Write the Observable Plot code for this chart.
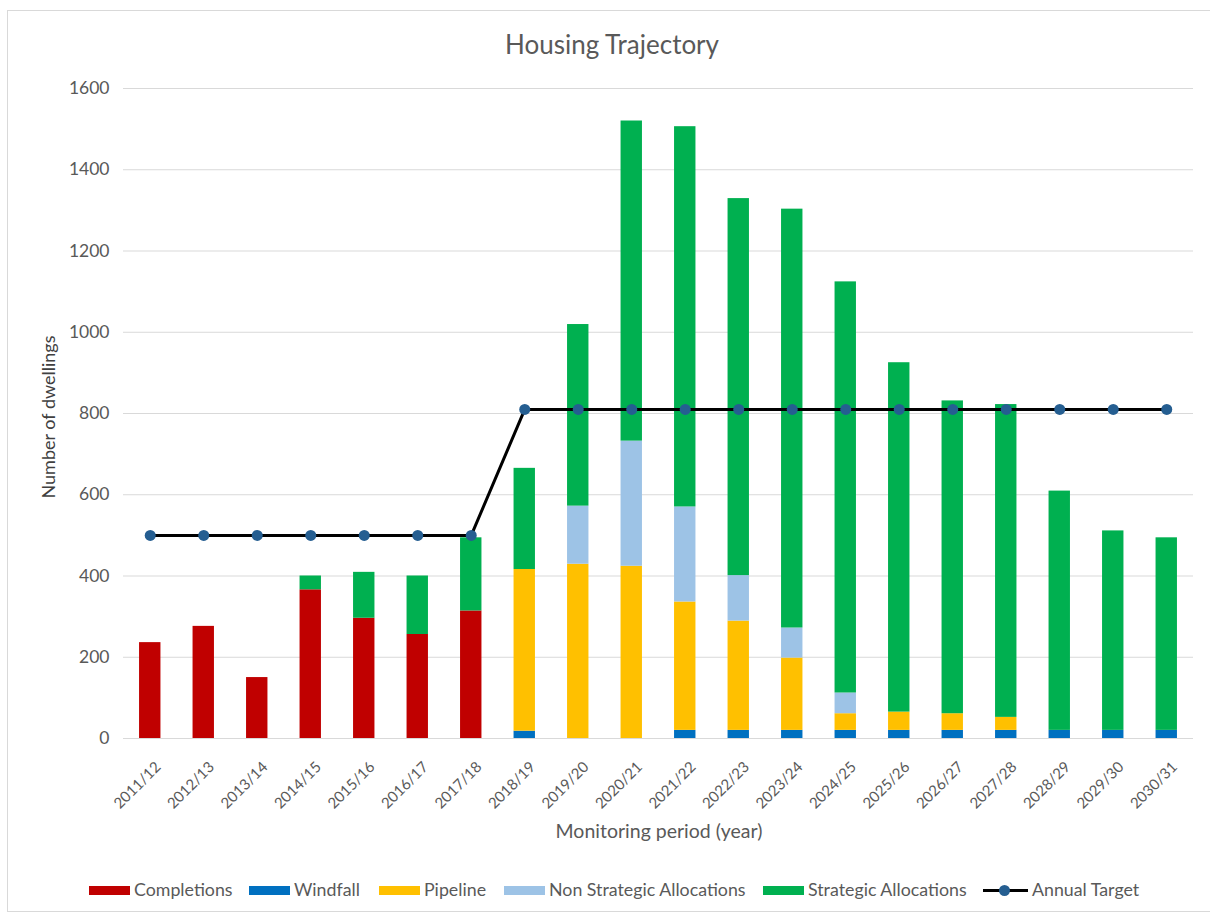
<!DOCTYPE html>
<html>
<head>
<meta charset="utf-8">
<script src="https://cdn.jsdelivr.net/npm/d3@7"></script>
<script src="https://cdn.jsdelivr.net/npm/@observablehq/plot@0.6"></script>
<style>
  html, body { margin: 0; padding: 0; background: #fff; }
  body { width: 1210px; height: 914px; overflow: hidden; font-family: Lato, "Open Sans", sans-serif; color: #595959; }
  #wrap { position: relative; width: 1210px; height: 914px; }
  #border { position: absolute; left: 7px; top: 10px; width: 1300px; height: 900px; border: 1px solid #d9d9d9; }
  #chart { position: absolute; left: 0; top: 0; }
  #title { position: absolute; left: 0; width: 1224px; top: 28px; text-align: center; font-size: 26px; color: #595959; }
  #ylabel { position: absolute; left: 48px; top: 417px; transform: translate(-50%, -50%) rotate(-90deg); font-size: 18px; white-space: nowrap; color: #404040; }
  #xlabel { position: absolute; left: 659px; top: 819px; transform: translateX(-50%); font-size: 19.5px; white-space: nowrap; color: #595959; }
  .leg { position: absolute; top: 879px; font-size: 17.8px; white-space: nowrap; color: #595959; line-height: 20px; }
  .sw { position: absolute; top: 886px; width: 41px; height: 9px; }
</style>
</head>
<body>
<div id="wrap">
  <div id="border"></div>
  <div id="chart"></div>
  <div id="title">Housing Trajectory</div>
  <div id="ylabel">Number of dwellings</div>
  <div id="xlabel">Monitoring period (year)</div>
  <div id="legend"></div>
</div>
<script>
const periods = ["2011/12","2012/13","2013/14","2014/15","2015/16","2016/17","2017/18","2018/19","2019/20","2020/21","2021/22","2022/23","2023/24","2024/25","2025/26","2026/27","2027/28","2028/29","2029/30","2030/31"];
const completions = [236,276,150,366,296,256,314,0,0,0,0,0,0,0,0,0,0,0,0,0];
const windfall = [0,0,0,0,0,0,0,18,0,0,20,20,20,20,20,20,20,20,20,20];
const pipeline = [0,0,0,0,0,0,0,398,429,424,316,269,178,41,45,41,32,0,0,0];
const nonStrategic = [0,0,0,0,0,0,0,0,143,308,234,112,74,51,0,0,0,0,0,0];
const strategic = [0,0,0,34,113,144,180,249,447,788,936,928,1031,1012,860,770,770,589,491,474];
const annualTarget = [500,500,500,500,500,500,500,810,810,810,810,810,810,810,810,810,810,810,810,810];
const yTicks = [0,200,400,600,800,1000,1200,1400,1600];

const seriesNames = ["Completions","Windfall","Pipeline","Non Strategic Allocations","Strategic Allocations"];
const seriesColors = ["#C00000","#0070C0","#FFC000","#9DC3E6","#00B050"];
const seriesValues = [completions, windfall, pipeline, nonStrategic, strategic];

const bars = [];
periods.forEach((p, i) => {
  seriesNames.forEach((s, k) => {
    bars.push({period: p, series: s, value: seriesValues[k][i]});
  });
});
const target = periods.map((p, i) => ({period: p, value: annualTarget[i]}));

const chart = Plot.plot({
  width: 1210,
  height: 914,
  marginLeft: 123,
  marginRight: 17,
  marginTop: 88,
  marginBottom: 176,
  style: {fontFamily: "Lato, 'Open Sans', sans-serif", color: "#595959", background: "transparent"},
  x: {domain: periods, paddingInner: 0.6, paddingOuter: 0.3, round: false, axis: null},
  y: {domain: [0, 1600], axis: null},
  color: {domain: seriesNames, range: seriesColors},
  marks: [
    Plot.ruleY(yTicks, {stroke: "#d9d9d9", strokeWidth: 1}),
    Plot.axisY(yTicks, {tickSize: 0, tickPadding: 14, fontSize: 17.5, fill: "#595959", label: null, tickFormat: d => String(d)}),
    Plot.barY(bars, {x: "period", y: "value", fill: "series", order: seriesNames}),
    Plot.line(target, {x: "period", y: "value", stroke: "#000", strokeWidth: 3}),
    Plot.dot(target, {x: "period", y: "value", r: 5.5, fill: "#255E91", stroke: "none"}),
    Plot.text(periods, {x: d => d, frameAnchor: "bottom", text: d => d, rotate: -45, textAnchor: "end", lineAnchor: "middle", dx: 8, dy: 26, fontSize: 15, fill: "#595959"})
  ]
});
document.getElementById("chart").appendChild(chart);

// legend
const legend = document.getElementById("legend");
const swX = [89, 249, 379, 504, 763];
seriesNames.forEach((s, k) => {
  const sw = document.createElement("div");
  sw.className = "sw";
  sw.style.left = swX[k] + "px";
  sw.style.background = seriesColors[k];
  legend.appendChild(sw);
  const t = document.createElement("div");
  t.className = "leg";
  t.style.left = (swX[k] + 45) + "px";
  t.textContent = s;
  legend.appendChild(t);
});
const ln = document.createElement("div");
ln.style.cssText = "position:absolute;left:983px;top:889px;width:45px;height:3px;background:#000;";
legend.appendChild(ln);
const dt = document.createElement("div");
dt.style.cssText = "position:absolute;left:999px;top:885px;width:11px;height:11px;border-radius:50%;background:#255E91;";
legend.appendChild(dt);
const lt = document.createElement("div");
lt.className = "leg";
lt.style.left = "1032px";
lt.textContent = "Annual Target";
legend.appendChild(lt);
</script>
</body>
</html>
